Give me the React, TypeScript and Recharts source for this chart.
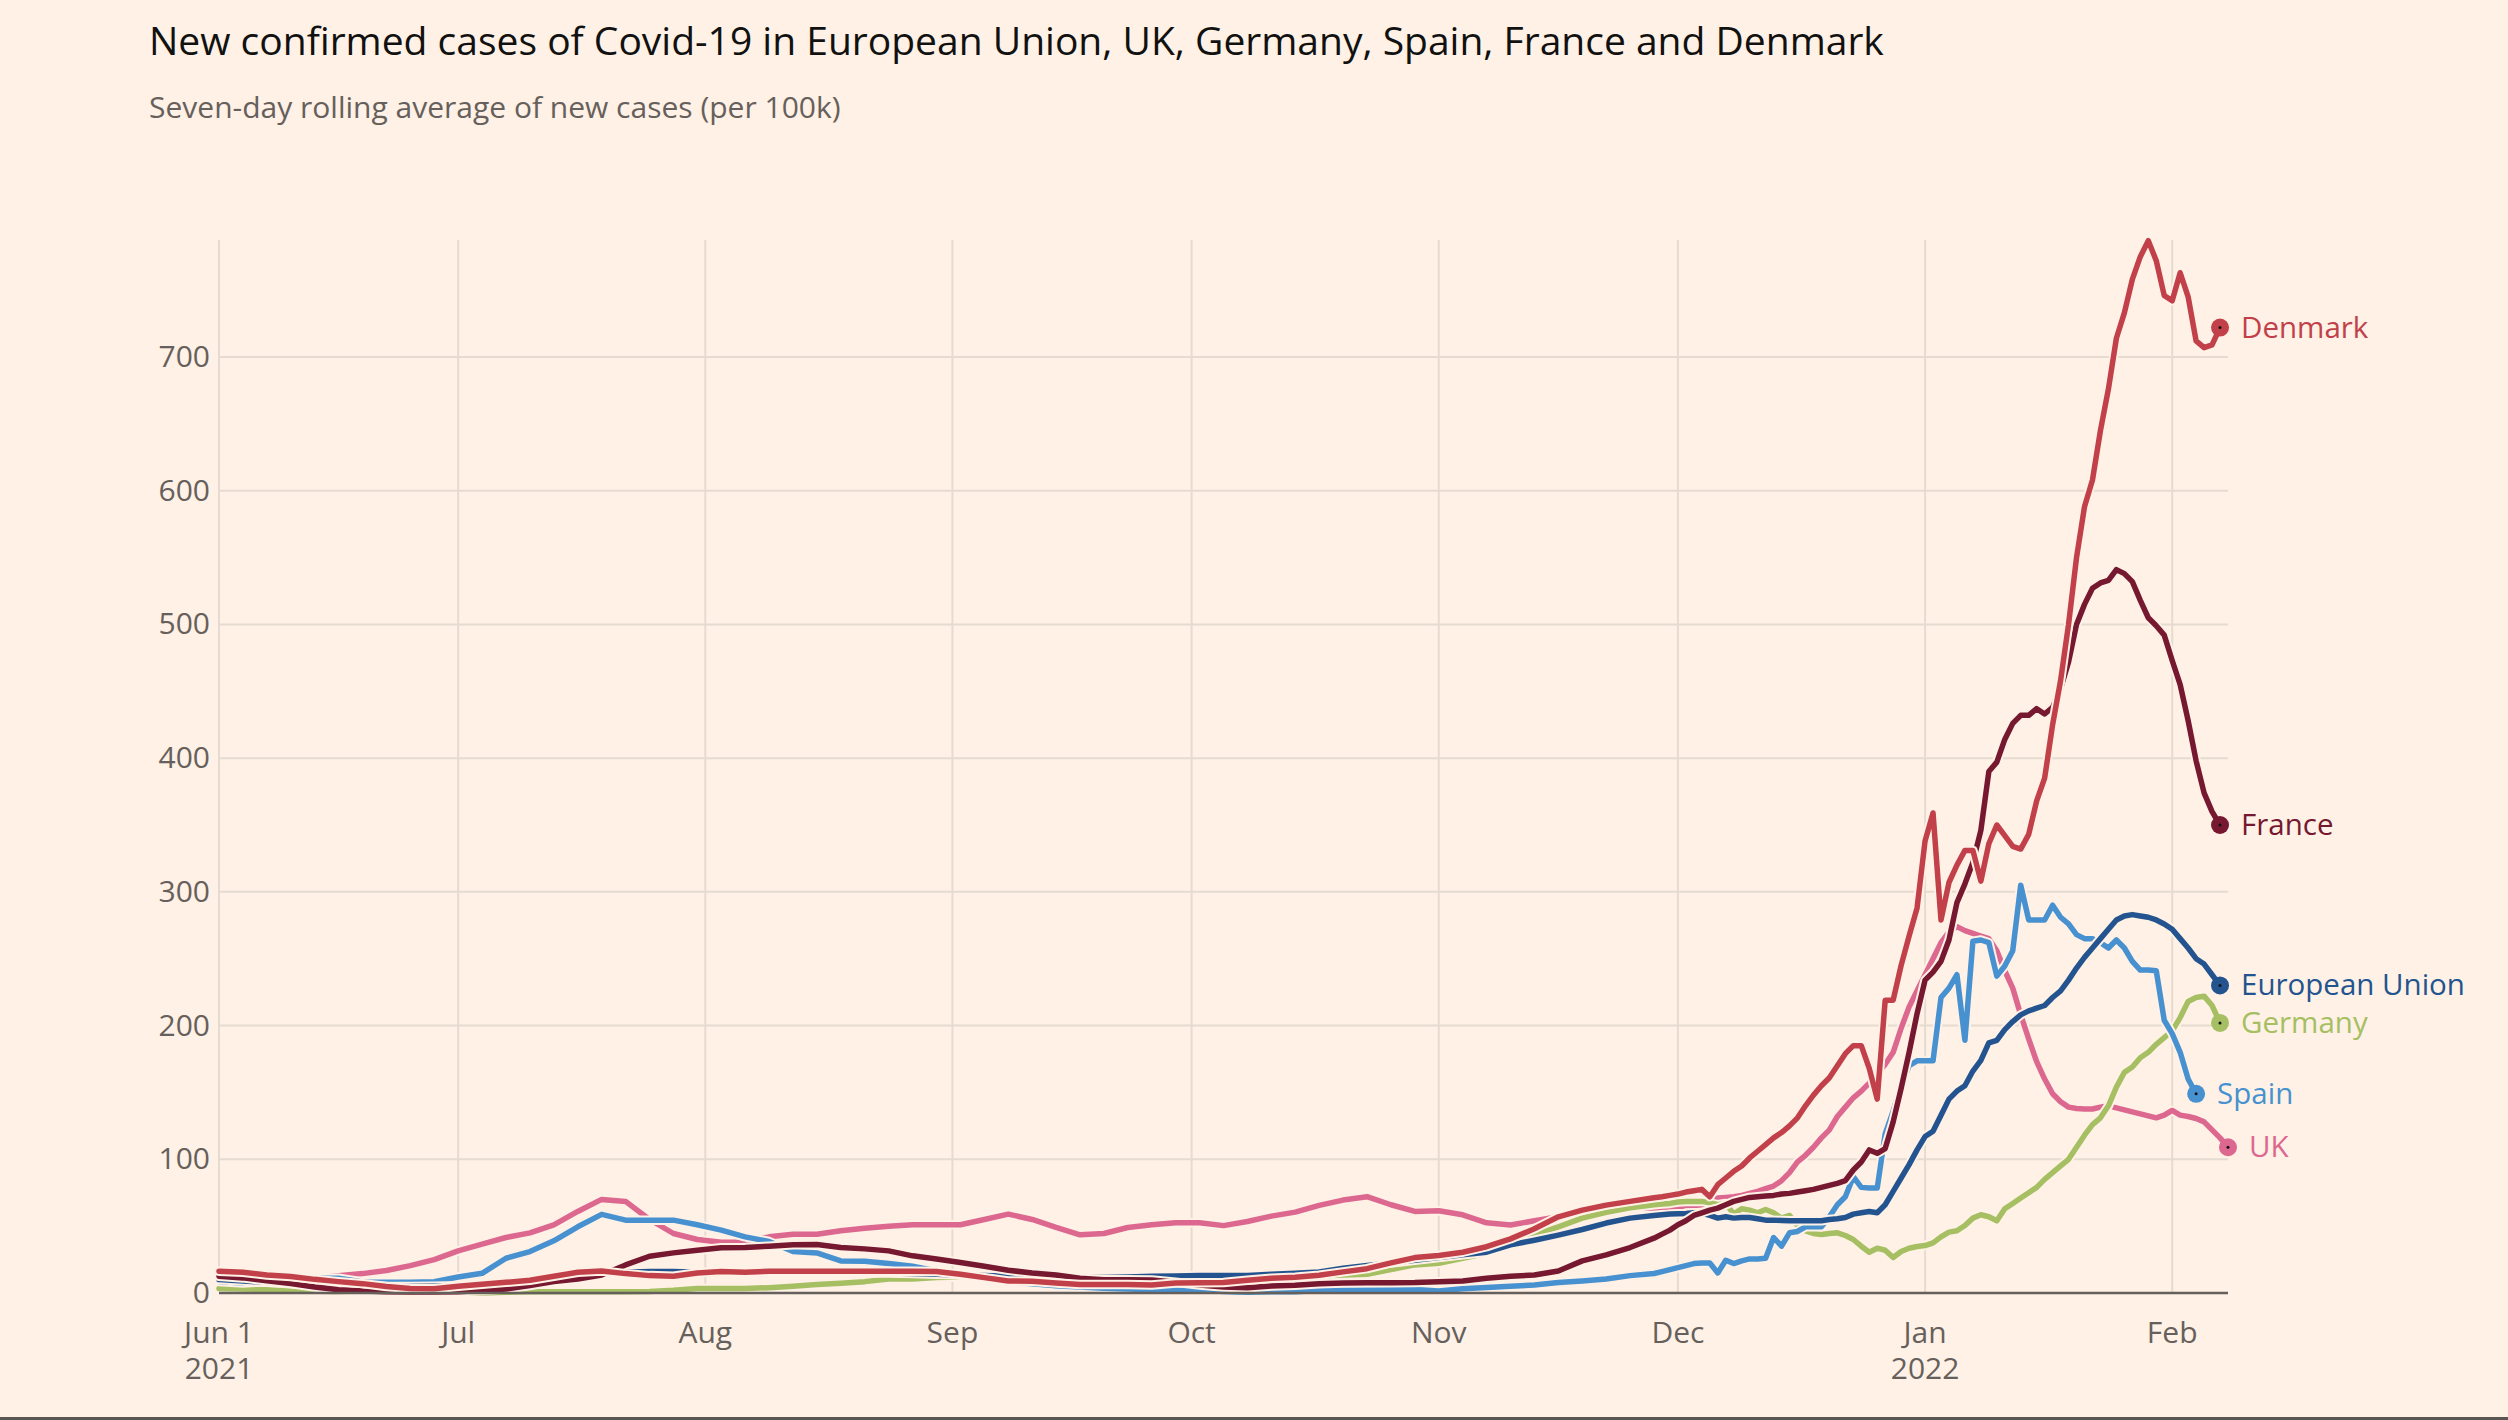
import React from 'react';
import { LineChart, Line, XAxis, YAxis, CartesianGrid } from 'recharts';

// x categories: days since 1 June 2021
const days = [
  0, 3, 6, 9, 12, 15, 18, 21, 24, 27,
  30, 33, 36, 39, 42, 45, 48, 51, 54, 57,
  60, 63, 66, 69, 72, 75, 78, 81, 84, 87,
  90, 93, 96, 99, 102, 105, 108, 111, 114, 117,
  120, 123, 126, 129, 132, 135, 138, 141, 144, 147,
  150, 153, 156, 159, 162, 165, 168, 171, 174, 177,
  180,
  181, 182, 183, 184, 185, 186, 187, 188, 189, 190,
  191, 192, 193, 194, 195, 196, 197, 198, 199, 200,
  201, 202, 203, 204, 205, 206, 207, 208, 209, 210,
  211, 212, 213, 214, 215, 216, 217, 218, 219, 220,
  221, 222, 223, 224, 225, 226, 227, 228, 229, 230,
  231, 232, 233, 234, 235, 236, 237, 238, 239, 240,
  241, 242, 243, 244, 245, 246, 247, 248, 249, 250,
  251, 252,
];

const denmark = [
  16.3, 15.5, 13.5, 12.3, 10.2, 8.5, 7, 4.8, 3.4, 3.2,
  5, 6.5, 8, 9.5, 12.5, 15.5, 16.5, 14.5, 13, 12.5,
  15, 16, 15.5, 16.3, 16.3, 16.3, 16.3, 16.3, 16.3, 16.3,
  16, 14, 11.5, 9, 8.8, 7.5, 6.3, 6.3, 6.3, 6,
  7.5, 7.7, 7.8, 9.5, 11, 11.8, 13.3, 15.8, 18.2, 22.5,
  26.5, 28, 30.5, 34.6, 40.5, 48, 57, 62, 65.7, 68.5,
  71.2,
  72, 73, 74, 75.5, 76.5, 77.5, 72, 81, 86, 91,
  95, 101, 106, 111, 116, 120, 125, 131, 140, 148,
  155, 161, 170, 179, 185, 185, 168, 145, 219, 219,
  245, 267, 288, 338, 359, 279, 307, 320, 331, 331,
  308, 336, 350, 342, 334, 332, 343, 368, 385, 425,
  458, 500, 550, 588, 608, 645, 676, 714, 733, 758,
  775, 787, 772, 746, 742, 763, 745, 712, 707, 709,
  722, null,
];

const france = [
  12.5, 11.3, 9.2, 7, 4.5, 2.5, 1.5, 1, 0.8, 0.8,
  1, 1.8, 3, 5.5, 8.5, 10.5, 13.5, 21, 27.5, 30,
  32, 33.8, 34, 35, 36, 36.3, 34, 33, 31.5, 27.8,
  25.5, 22.8, 20, 17, 15, 13.5, 11, 10, 10, 9.8,
  8, 6, 4.5, 4, 5.2, 5.8, 7, 7.5, 7.7, 7.7,
  7.8, 8.5, 9, 11, 12.5, 13.5, 16.5, 24, 28.5, 34,
  41,
  44, 47, 51, 54, 58, 60, 62, 63.5, 66, 68.5,
  70, 71.5, 72, 72.5, 73, 74, 74.5, 75.5, 76.5, 77.5,
  79, 80.5, 82, 84, 92, 98, 107, 104.5, 108, 128,
  153, 180, 209, 234, 240, 248, 264, 292, 306, 322,
  346, 390, 397, 414, 426, 432, 432, 437, 433, 438,
  452, 472, 500, 515, 527, 531, 533, 541, 538, 532,
  518, 505, 499, 492, 473, 455, 428, 398, 374, 360,
  350, null,
];

const europeanUnion = [
  10, 9, 8, 7, 6, 5.5, 5, 4.8, 4.8, 5,
  5.5, 6.5, 8, 9.5, 11, 13, 14.5, 15.5, 16, 16,
  15.5, 15.5, 15.5, 15.5, 15.5, 15.5, 15.5, 15, 15, 14.5,
  14, 13.5, 13, 12.5, 12, 11.5, 11.5, 11.5, 12, 12.5,
  12.7, 13, 13, 13, 14, 14.7, 15.7, 18.5, 20.5, 22.5,
  24.5, 26.5, 28.5, 30.5, 36, 39.5, 43.3, 47.5, 52.3, 56,
  58,
  58.5, 59, 59.3, 59.5, 60, 59.5, 58, 56, 57, 56,
  56.5, 56.5, 55.5, 54.5, 54.5, 54.2, 54, 54, 54, 54,
  54, 55, 55.5, 56.5, 59, 60, 61, 60, 66, 76,
  86, 96, 107, 117, 121, 133, 145, 151, 155, 166,
  174, 187, 189, 197, 203, 208, 211, 213, 215, 221,
  226, 234, 243, 251, 258, 265, 272, 279, 282, 283,
  282, 281, 279, 276, 272, 265, 258, 250, 246, 238,
  230, null,
];

const germany = [
  3.4, 3, 2.5, 2, 1.5, 1, 0.5, 0.2, 0, 0,
  0, 0, 0.5, 1, 1, 1, 1, 1, 1.2, 2,
  3.3, 3.3, 3.3, 4, 5, 6.3, 7.3, 8.5, 10.5, 10.5,
  11.5, 12, 11.5, 10.5, 9.5, 8.5, 8, 8, 8, 8,
  8, 8, 8.5, 9.5, 11, 11.8, 12.8, 13.5, 14, 17.5,
  21, 22.3, 26, 29.6, 36, 43.5, 49.5, 56, 60.3, 63.7,
  66,
  66.5, 67, 68, 68.5, 68.5, 68.5, 67.5, 66, 67, 59,
  63, 62, 60, 62.5, 60, 56, 58, 50.5, 46.5, 44.5,
  43.7, 44.5, 45, 43, 40, 35, 30.5, 33.5, 32, 26.5,
  31, 33.5, 34.8, 35.5, 37.5, 42, 45.5, 46.6, 50.5, 56,
  58.5, 57, 54, 63, 67, 71, 75, 79, 85, 90,
  95, 100, 109, 118, 126, 131, 140, 154, 165, 169,
  176, 180, 186, 191, 196, 206, 218, 221, 222, 215,
  202, null,
];

const spain = [
  8.6, 7.5, 8.5, 10, 11, 11, 8.2, 8, 8, 8.5,
  12, 14.7, 26, 31, 39, 49.5, 58.8, 54.5, 54.5, 54.5,
  51, 47, 42, 38.5, 31, 30, 24, 23.8, 22, 20,
  16.5, 13.5, 10.5, 8.5, 7, 5.5, 4.5, 3.5, 3, 2.5,
  2.2, 2.2, 1.2, 0.5, 1, 1, 1.8, 2.2, 2.3, 2.5,
  2.7, 1.5, 3.2, 4.2, 5, 6, 7.8, 9, 10.5, 13,
  14.6,
  16, 17.5, 19, 20.5, 22, 22.5, 22.5, 15, 24.5, 22,
  24, 25.5, 25.5, 26, 41.5, 35, 45, 46, 49.5, 49.5,
  49.5, 57, 66, 72, 87, 79, 78.5, 78.5, 119, 136,
  155, 170, 173.6, 173.6, 173.6, 221, 228, 238, 189, 263,
  264, 262, 237, 244.5, 256, 305, 279, 279, 279, 290,
  281, 276, 268, 265, 265, 262, 258, 264, 258, 248,
  241.5, 241.5, 241, 204, 194, 180, 160, 149, null, null,
  null, null,
];

const uk = [
  5, 6, 7, 9, 11, 13, 14.5, 16.8, 20.5, 25,
  31.5, 36.5, 41.5, 45, 51, 61, 70, 68.5, 55, 44.5,
  40, 38, 38, 42, 44, 44, 46.5, 48.5, 50, 51,
  51, 51, 55, 59, 55, 49, 43.5, 44.5, 49, 51,
  52.6, 52.6, 50.4, 53.5, 57.5, 60.5, 65.5, 69.5, 72, 66,
  61, 61.5, 58.5, 52.5, 50.8, 54, 57, 59.5, 61.5, 63.5,
  63.5,
  63.5, 63.5, 64, 65.5, 65.5, 66, 69, 71, 71.5, 72,
  73, 74.5, 76, 78, 80, 84, 90, 98, 103, 109,
  116, 122, 132, 139, 146, 151, 157, 164, 171, 180,
  198, 214, 226, 238, 250, 262, 270, 274, 271, 269,
  267, 265, 256, 241, 228, 208, 190, 173, 160, 149,
  143, 139, 138, 137.6, 137.6, 139, 140, 138.5, 137, 135.5,
  134, 132.5, 131, 133, 136.5, 133, 132, 130.5, 128, 122,
  116, 109,
];

const monthTicks = [0, 30, 61, 92, 122, 153, 183, 214, 245];
const monthLabels = ['Jun 1', 'Jul', 'Aug', 'Sep', 'Oct', 'Nov', 'Dec', 'Jan', 'Feb'];
const yearLabels = ['2021', '', '', '', '', '', '', '2022', ''];
const valueTicks = [0, 100, 200, 300, 400, 500, 600, 700];
const X_DOMAIN = [0, 252];
const Y_DOMAIN = [0, 787.5];

const seriesNames = ['UK', 'Germany', 'Spain', 'European Union', 'France', 'Denmark'];
const seriesKeys = ['uk', 'germany', 'spain', 'eu', 'france', 'denmark'];
const seriesColors = ['#dc6890', '#a5bf62', '#4791d0', '#24548f', '#76182f', '#c1404a'];
const seriesValues = [uk, germany, spain, europeanUnion, france, denmark];

const BG = '#fff1e5';
const GRID = '#e6dbd1';
const TEXT = '#66605c';
const FONT = '"Open Sans", "Noto Sans", sans-serif';

const W = 2508;
const H = 1420;

const data = days.map((day, i) => {
  const row: Record<string, number | null> = { day };
  seriesKeys.forEach((k, s) => {
    const v = seriesValues[s][i];
    row[k] = v === undefined ? null : v;
  });
  return row;
});

const lastIndex = seriesValues.map((vals) => {
  let li = -1;
  vals.forEach((v, i) => {
    if (v !== null && v !== undefined) li = i;
  });
  return li;
});

const XTick = (props: any) => {
  const { x, y, payload } = props;
  const idx = monthTicks.indexOf(payload.value);
  return (
    <g>
      <text x={x} y={y + 48} textAnchor="middle" fontSize={30} fill={TEXT} fontFamily={FONT}>
        {monthLabels[idx]}
      </text>
      {yearLabels[idx] ? (
        <text x={x} y={y + 84} textAnchor="middle" fontSize={30} fill={TEXT} fontFamily={FONT}>
          {yearLabels[idx]}
        </text>
      ) : null}
    </g>
  );
};

const YTick = (props: any) => {
  const { x, y, payload } = props;
  return (
    <text x={x} y={y} dy={10} textAnchor="end" fontSize={30} fill={TEXT} fontFamily={FONT}>
      {payload.value}
    </text>
  );
};

const makeEndDot = (s: number) => (props: any) => {
  const { cx, cy, index } = props;
  if (index !== lastIndex[s] || cx == null || cy == null) {
    return <g key={`${seriesKeys[s]}-d-${index}`} />;
  }
  return (
    <g key={`${seriesKeys[s]}-end`}>
      <circle cx={cx} cy={cy} r={9} fill={seriesColors[s]} />
      <circle cx={cx} cy={cy} r={1.5} fill="#111" />
      <text
        x={cx + 21}
        y={cy}
        dy={10}
        fontSize={29.5}
        fill={seriesColors[s]}
        fontFamily={FONT}
      >
        {seriesNames[s]}
      </text>
    </g>
  );
};

// grid lines only at the labelled ticks, placed through the axis scale / plot offset
const horizontalGen = (args: any) => {
  const sc = args?.yAxis?.scale;
  const off = args.offset;
  return valueTicks
    .filter((v) => v > 0)
    .map((v) =>
      typeof sc === 'function'
        ? sc(v)
        : off.top + off.height * (1 - (v - Y_DOMAIN[0]) / (Y_DOMAIN[1] - Y_DOMAIN[0]))
    );
};
const verticalGen = (args: any) => {
  const sc = args?.xAxis?.scale;
  const off = args.offset;
  return monthTicks.map((v) =>
    typeof sc === 'function'
      ? sc(v)
      : off.left + (off.width * (v - X_DOMAIN[0])) / (X_DOMAIN[1] - X_DOMAIN[0])
  );
};

export default function App() {
  const lines: React.ReactNode[] = [];
  seriesKeys.forEach((k, s) => {
    lines.push(
      <Line
        key={`${k}-halo`}
        type="linear"
        dataKey={k}
        stroke={BG}
        strokeWidth={9.5}
        strokeLinejoin="round"
        strokeLinecap="round"
        dot={false}
        activeDot={false}
        isAnimationActive={false}
        legendType="none"
      />
    );
    lines.push(
      <Line
        key={`${k}-line`}
        type="linear"
        dataKey={k}
        name={seriesNames[s]}
        stroke={seriesColors[s]}
        strokeWidth={5.5}
        strokeLinejoin="round"
        strokeLinecap="round"
        dot={makeEndDot(s)}
        activeDot={false}
        isAnimationActive={false}
      />
    );
  });

  return (
    <div
      style={{
        position: 'absolute',
        left: 0,
        top: 0,
        width: W,
        height: H,
        background: BG,
        fontFamily: FONT,
        overflow: 'hidden',
      }}
    >
      <svg width={W} height={H} style={{ position: 'absolute', left: 0, top: 0 }}>
        <text x={149} y={55} fontSize={39} fill="#111" fontFamily={FONT}>
          New confirmed cases of Covid-19 in European Union, UK, Germany, Spain, France and Denmark
        </text>
        <text x={149} y={118} fontSize={30} fill={TEXT} fontFamily={FONT}>
          Seven-day rolling average of new cases (per 100k)
        </text>
        <rect x={0} y={H - 3} width={W} height={3} fill="#5a5654" />
      </svg>
      <div style={{ position: 'absolute', left: 0, top: 0 }}>
        <LineChart
          width={W}
          height={H}
          data={data}
          margin={{ top: 240, right: 280, bottom: 0, left: 0 }}
        >
          <CartesianGrid
            stroke={GRID}
            strokeWidth={2}
            horizontalCoordinatesGenerator={horizontalGen}
            verticalCoordinatesGenerator={verticalGen}
          />
          <XAxis
            dataKey="day"
            type="number"
            domain={X_DOMAIN}
            ticks={monthTicks}
            interval={0}
            height={127}
            tickLine={false}
            tickSize={0}
            tick={<XTick />}
            axisLine={{ stroke: TEXT, strokeWidth: 2.5 }}
          />
          <YAxis
            type="number"
            domain={Y_DOMAIN}
            ticks={valueTicks}
            interval={0}
            width={219}
            tickLine={false}
            tickSize={0}
            tickMargin={9}
            axisLine={false}
            tick={<YTick />}
          />
          {lines}
        </LineChart>
      </div>
    </div>
  );
}
